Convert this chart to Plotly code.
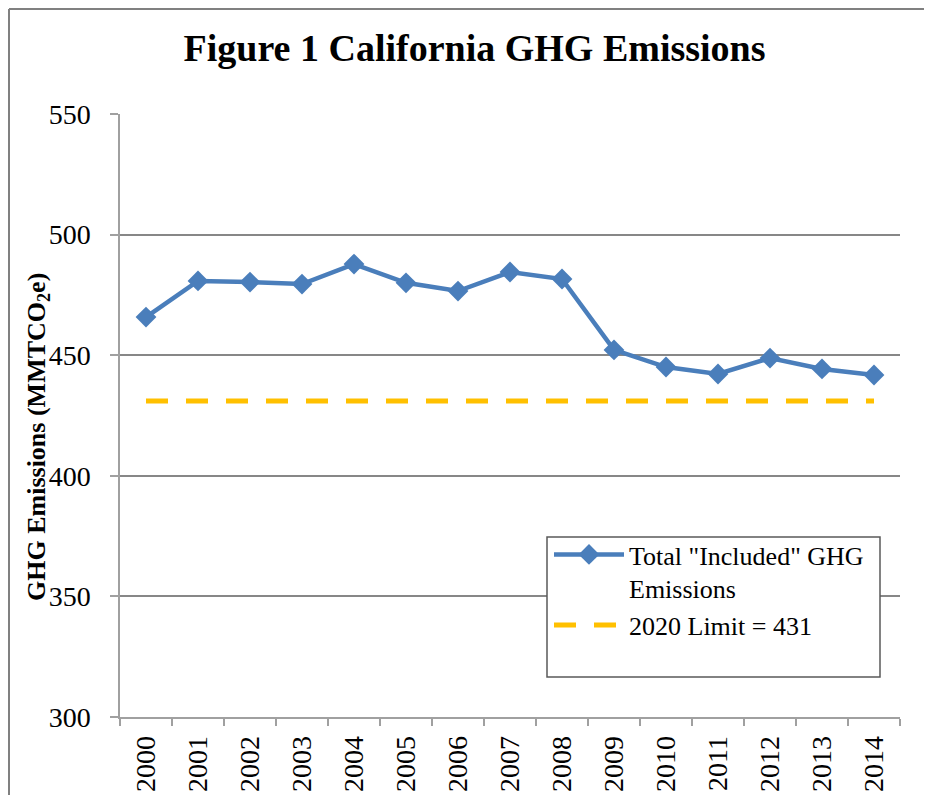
import plotly.graph_objects as go

years = ["2000", "2001", "2002", "2003", "2004", "2005", "2006", "2007",
         "2008", "2009", "2010", "2011", "2012", "2013", "2014"]
emissions = [465.8, 480.8, 480.3, 479.5, 487.8, 480.0, 476.6, 484.5,
             481.6, 452.2, 445.1, 442.2, 448.8, 444.3, 441.8]
limit_value = 431
limit = [limit_value] * len(years)
y_ticks = [300, 350, 400, 450, 500, 550]

series_name = 'Total "Included" GHG<br>Emissions'
limit_name = "2020 Limit = 431"

OFF = 8  # page body margin
W, H = 932 - OFF, 795 - OFF
L, R, T, B = 120 - OFF, 32, 114 - OFF, 78
pw, ph = W - L - R, H - T - B

def px_x(p):
    # page pixel -> paper coordinate
    return (p - OFF - L) / pw

def px_y(p):
    return (H - B - (p - OFF)) / ph

fig = go.Figure()
fig.add_trace(go.Scatter(
    x=years, y=emissions, name=series_name, mode="lines+markers",
    line=dict(color="#4A7EBB", width=4.5),
    marker=dict(symbol="diamond", size=16, color="#4A7EBB"),
))
fig.add_trace(go.Scatter(
    x=years, y=limit, name=limit_name, mode="lines",
    line=dict(color="#FFC000", width=5, dash="22px,18px"),
))

serif = "Liberation Serif"
fig.update_layout(
    width=W, height=H,
    margin=dict(l=L, r=R, t=T, b=B, autoexpand=False),
    paper_bgcolor="white", plot_bgcolor="white",
    title=dict(text="<b>Figure 1 California GHG Emissions</b>",
               font=dict(family=serif, size=38, color="black"),
               x=(474.5 - OFF) / W, xanchor="center", xref="container",
               y=1 - (48 - OFF) / H, yanchor="middle", yref="container"),
    xaxis=dict(type="category", range=[-0.5, len(years) - 0.5],
               automargin=False,
               tickson="boundaries", ticks="outside", ticklen=7,
               tickcolor="#A0A0A0", tickwidth=1.5,
               showline=True, linecolor="#A0A0A0", linewidth=1.5,
               showgrid=False, tickangle=-90, ticklabelstandoff=6,
               tickfont=dict(family=serif, size=28, color="black")),
    yaxis=dict(range=[300, 550], tickvals=y_ticks, ticks="outside",
               automargin=False,
               ticklen=8, tickcolor="#A0A0A0", tickwidth=1.5,
               showline=True, linecolor="#A0A0A0", linewidth=1.5,
               showgrid=True, gridcolor="#878787", gridwidth=1.5,
               zeroline=False, ticklabelstandoff=14,
               tickfont=dict(family=serif, size=28, color="black")),
    showlegend=True,
    legend=dict(x=px_x(549), y=px_y(531), xanchor="left", yanchor="top",
                bgcolor="rgba(0,0,0,0)", borderwidth=0,
                font=dict(family=serif, size=26, color="black"),
                itemwidth=70, valign="top", tracegroupgap=0),
    annotations=[dict(
        text="<b>GHG Emissions (MMTCO<sub>2</sub>e)</b>",
        textangle=-90, xref="paper", yref="paper",
        x=px_x(38), y=px_y(437), xanchor="center", yanchor="middle",
        showarrow=False, font=dict(family=serif, size=26, color="black"))],
    shapes=[
        dict(type="rect", xref="paper", yref="paper",
             x0=px_x(547), x1=px_x(880), y0=px_y(677), y1=px_y(537),
             line=dict(color="#595959", width=1.5), fillcolor="white",
             layer="above"),
        dict(type="line", xref="paper", yref="paper",
             x0=px_x(9), x1=px_x(940), y0=px_y(9), y1=px_y(9),
             line=dict(color="#808080", width=2)),
        dict(type="line", xref="paper", yref="paper",
             x0=px_x(9), x1=px_x(9), y0=px_y(9), y1=px_y(800),
             line=dict(color="#808080", width=2)),
    ],
)

fig.write_html("out.html")
